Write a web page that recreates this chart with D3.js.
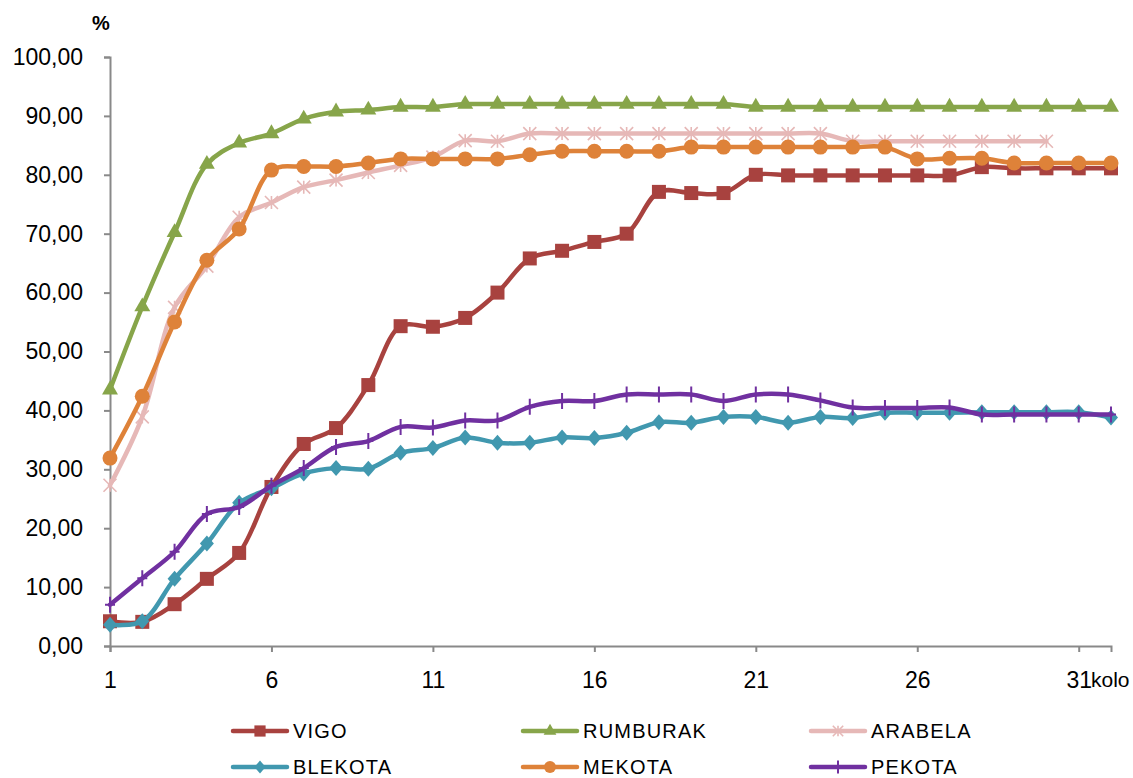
<!DOCTYPE html>
<html>
<head>
<meta charset="utf-8">
<script src="https://cdn.jsdelivr.net/npm/d3@7"></script>
<style>
  html, body { margin: 0; padding: 0; background: #fff; }
  svg text { fill: #000; }
</style>
</head>
<body>
<svg id="chart" width="1133" height="778"></svg>
<script>
// Round numbers (kolo) and percentage values per variety
const rounds = d3.range(1, 33);

const vigo = [4.2, 4.1, 7.1, 11.4, 15.8, 27.0, 34.3, 37.0, 44.3, 54.3, 54.2, 55.7, 60.0, 65.8, 67.1, 68.6,
  70.0, 77.1, 76.9, 76.9, 80.0, 79.9, 79.9, 79.9, 79.9, 79.9, 79.9, 81.3, 81.1, 81.1, 81.1, 81.1];
const rumburak = [43.5, 57.6, 70.2, 81.8, 85.4, 87.0, 89.5, 90.7, 91.0, 91.5, 91.5, 92.0, 92.0, 92.0, 92.0, 92.0,
  92.0, 92.0, 92.0, 92.0, 91.5, 91.5, 91.5, 91.5, 91.5, 91.5, 91.5, 91.5, 91.5, 91.5, 91.5, 91.5];
const arabela = [27.3, 38.9, 57.5, 64.5, 72.8, 75.3, 77.9, 79.1, 80.4, 81.6, 83.0, 85.8, 85.7, 87.0, 87.0, 87.0,
  87.0, 87.0, 87.0, 87.0, 87.0, 87.0, 87.0, 85.7, 85.7, 85.7, 85.7, 85.7, 85.7, 85.7];
const blekota = [3.6, 4.2, 11.4, 17.4, 24.3, 26.8, 29.3, 30.2, 30.1, 32.8, 33.6, 35.4, 34.5, 34.5, 35.4, 35.3,
  36.2, 38.0, 37.9, 38.9, 38.9, 37.9, 38.9, 38.7, 39.6, 39.6, 39.6, 39.7, 39.7, 39.7, 39.7, 38.8];
const mekota = [31.9, 42.4, 55.0, 65.5, 70.8, 80.8, 81.4, 81.4, 82.0, 82.7, 82.7, 82.7, 82.7, 83.4, 84.0, 84.0,
  84.0, 84.0, 84.7, 84.7, 84.7, 84.7, 84.7, 84.7, 84.7, 82.7, 82.8, 82.8, 82.0, 82.0, 82.0, 82.0];
const pekota = [7.0, 11.5, 16.0, 22.4, 23.6, 27.2, 30.2, 33.8, 34.8, 37.2, 37.1, 38.3, 38.3, 40.6, 41.6, 41.6,
  42.7, 42.7, 42.7, 41.6, 42.7, 42.7, 41.7, 40.5, 40.4, 40.4, 40.5, 39.3, 39.3, 39.3, 39.3, 39.3];

const yTicks = [0, 10, 20, 30, 40, 50, 60, 70, 80, 90, 100];
const xTickLabels = [1, 6, 11, 16, 21, 26, 31];

const series = [
  { name: "VIGO", values: vigo, color: "#A8423F", marker: "square" },
  { name: "RUMBURAK", values: rumburak, color: "#87A54A", marker: "triangle" },
  { name: "ARABELA", values: arabela, color: "#E6B8B7", marker: "star" },
  { name: "BLEKOTA", values: blekota, color: "#4198AF", marker: "diamond" },
  { name: "MEKOTA", values: mekota, color: "#DE8239", marker: "circle" },
  { name: "PEKOTA", values: pekota, color: "#7030A0", marker: "plus" }
];

const svg = d3.select("#chart");
const x = d3.scaleLinear().domain([1, 32]).range([110, 1111]);
const y = d3.scaleLinear().domain([0, 100]).range([646, 57]);

const fmt = v => d3.format(".2f")(v).replace(".", ",");
const axisColor = "#898989";
const labelFont = "Liberation Sans, Arial, sans-serif";

// Y axis
const yAxis = svg.append("g").attr("transform", `translate(${x(1)},0)`)
  .call(d3.axisLeft(y).tickValues(yTicks).tickFormat(fmt).tickSize(6).tickPadding(21));
yAxis.select(".domain").attr("stroke", axisColor).attr("stroke-width", 2);
yAxis.selectAll(".tick line").attr("stroke", axisColor).attr("stroke-width", 2);
yAxis.selectAll(".tick text").attr("font-family", labelFont).attr("font-size", 23).attr("fill", "#000");

// X axis
const xAxis = svg.append("g").attr("transform", `translate(0,${y(0)})`)
  .call(d3.axisBottom(x).tickValues(xTickLabels).tickFormat(d3.format("d")).tickSizeOuter(0).tickSize(6).tickPadding(20));
xAxis.select(".domain").attr("stroke", axisColor).attr("stroke-width", 2);
xAxis.selectAll(".tick line").attr("stroke", axisColor).attr("stroke-width", 2);
xAxis.selectAll(".tick text").attr("font-family", labelFont).attr("font-size", 23).attr("fill", "#000");

// Axis titles
svg.append("text").attr("x", 1091).attr("y", y(0) + 26).attr("dy", "0.71em")
  .attr("font-family", labelFont).attr("font-size", 21).text("kolo");
svg.append("text").attr("x", 101).attr("y", 30).attr("text-anchor", "middle")
  .attr("font-family", labelFont).attr("font-weight", "bold").attr("font-size", 20).text("%");

// Marker painter
function drawMarker(g, type, color, s) {
  switch (type) {
    case "square":
      g.append("rect").attr("x", -7 * s).attr("y", -7 * s).attr("width", 14 * s).attr("height", 14 * s).attr("fill", color);
      break;
    case "triangle":
      g.append("path").attr("d", d3.symbol(d3.symbolTriangle, 110 * s * s)()).attr("fill", color);
      break;
    case "diamond":
      g.append("path").attr("d", `M0,${-8 * s}L${7 * s},0L0,${8 * s}L${-7 * s},0Z`).attr("fill", color);
      break;
    case "circle":
      g.append("circle").attr("r", 7.5 * s).attr("fill", color);
      break;
    case "star": {
      const r = 6.5 * s;
      g.append("path").attr("d", `M${-r},${-r}L${r},${r}M${-r},${r}L${r},${-r}M0,${-r}L0,${r}`)
        .attr("stroke", color).attr("stroke-width", 1.6).attr("fill", "none");
      break;
    }
    case "plus":
      g.append("path").attr("d", `M0,${-8 * s}L0,${8 * s}M${-5 * s},0L${5 * s},0`)
        .attr("stroke", color).attr("stroke-width", 2).attr("fill", "none");
      break;
  }
}

const line = d3.line()
  .x((d, i) => x(rounds[i]))
  .y(d => y(d))
  .curve(d3.curveCatmullRom.alpha(0.5));

// Series lines and markers
series.forEach(s => {
  const g = svg.append("g");
  g.append("path").datum(s.values).attr("d", line)
    .attr("fill", "none").attr("stroke", s.color).attr("stroke-width", 4.5)
    .attr("stroke-linejoin", "round").attr("stroke-linecap", "round");
  s.values.forEach((v, i) => {
    const m = g.append("g").attr("transform", `translate(${x(rounds[i])},${y(v)})`);
    drawMarker(m, s.marker, s.color, 1);
  });
});

// Legend
const legendCols = [232, 522, 810];
const legendRows = [731, 767];
series.forEach((s, i) => {
  const lx = legendCols[i % 3], ly = legendRows[Math.floor(i / 3)];
  const g = svg.append("g").attr("transform", `translate(${lx},${ly})`);
  g.append("line").attr("x1", 1).attr("x2", 55).attr("y1", 0).attr("y2", 0)
    .attr("stroke", s.color).attr("stroke-width", 4.5).attr("stroke-linecap", "round");
  const m = g.append("g").attr("transform", "translate(28,0)");
  drawMarker(m, s.marker, s.color, 0.8);
  g.append("text").attr("x", 61).attr("y", 0).attr("dy", "0.36em")
    .attr("font-family", labelFont).attr("font-size", 20).attr("letter-spacing", 1.2).text(s.name);
});
</script>
</body>
</html>
